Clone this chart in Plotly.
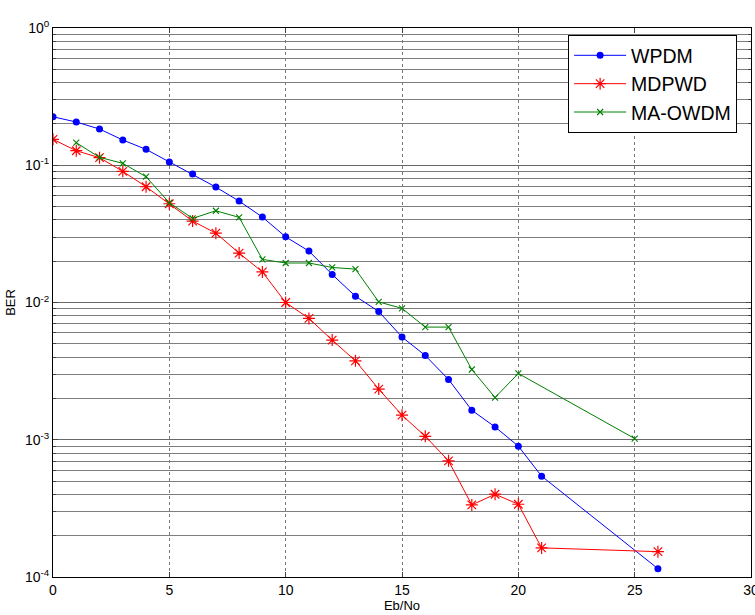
import plotly.graph_objects as go

# Data
x_wpdm = [0, 1, 2, 3, 4, 5, 6, 7, 8, 9, 10, 11, 12, 13, 14, 15, 16, 17, 18, 19, 20, 21, 26]
ber_wpdm = [0.2256, 0.2065, 0.1836, 0.1527, 0.1306, 0.1055, 0.0863, 0.0693, 0.0548, 0.0419,
            0.0301, 0.0237, 0.0160, 0.0111, 0.0086, 0.0056, 0.00411, 0.00275, 0.00164,
            0.00124, 0.000898, 0.000543, 0.000115]

x_mdpwd = [0, 1, 2, 3, 4, 5, 6, 7, 8, 9, 10, 11, 12, 13, 14, 15, 16, 17, 18, 19, 20, 21, 26]
ber_mdpwd = [0.1545, 0.1276, 0.1135, 0.0903, 0.0697, 0.0524, 0.0392, 0.0320, 0.0229, 0.0167,
             0.0100, 0.00766, 0.00532, 0.00376, 0.00234, 0.00151, 0.00106, 0.000702,
             0.000335, 0.000401, 0.000339, 0.000163, 0.000153]

x_maowdm = [1, 2, 3, 4, 5, 6, 7, 8, 9, 10, 11, 12, 13, 14, 15, 16, 17, 18, 19, 20, 25]
ber_maowdm = [0.1459, 0.1142, 0.1032, 0.0825, 0.0533, 0.0410, 0.0466, 0.0417, 0.0206, 0.0194,
              0.0194, 0.0180, 0.0175, 0.0101, 0.00906, 0.00662, 0.00662, 0.00325, 0.00203,
              0.00304, 0.00102]

x_ticks = [0, 5, 10, 15, 20, 25, 30]
y_ticks = [1e-4, 1e-3, 1e-2, 1e-1, 1e0]
y_ticktext = ["10<sup>-4</sup>", "10<sup>-3</sup>", "10<sup>-2</sup>", "10<sup>-1</sup>", "10<sup>0</sup>"]

fig = go.Figure()
fig.add_trace(go.Scatter(
    x=x_wpdm, y=ber_wpdm, name="WPDM", mode="lines+markers",
    line=dict(color="rgb(0,0,255)", width=1),
    marker=dict(symbol="circle", size=7, color="rgb(0,0,255)")))
fig.add_trace(go.Scatter(
    x=x_mdpwd, y=ber_mdpwd, name="MDPWD", mode="lines+markers",
    line=dict(color="rgb(255,0,0)", width=1),
    marker=dict(symbol="asterisk-open", size=10, color="rgb(255,0,0)",
                line=dict(color="rgb(255,0,0)", width=1.2))))
fig.add_trace(go.Scatter(
    x=x_maowdm, y=ber_maowdm, name="MA-OWDM", mode="lines+markers",
    line=dict(color="rgb(0,128,0)", width=1),
    marker=dict(symbol="x-thin-open", size=6, color="rgb(0,128,0)",
                line=dict(color="rgb(0,128,0)", width=1.1))))

font = "Liberation Sans, Arial, sans-serif"
fig.update_layout(
    width=755, height=615,
    margin=dict(l=53, r=4, t=28, b=38, autoexpand=False),
    paper_bgcolor="white", plot_bgcolor="white",
    font=dict(family=font, size=14, color="black"),
    showlegend=True,
    legend=dict(x=0.738, y=0.987, xanchor="left", yanchor="top",
                bgcolor="white", bordercolor="black", borderwidth=1,
                font=dict(size=19.5, family=font), itemwidth=52,
                tracegroupgap=0),
    xaxis=dict(range=[0, 30], tickvals=x_ticks, ticks="inside", ticklen=5,
               ticklabeloverflow="allow",
               showline=True, linecolor="black", linewidth=1, mirror="ticks",
               showgrid=True, gridcolor="rgb(120,120,120)", griddash="dot", gridwidth=1,
               zeroline=False, automargin=False,
               title=dict(text="Eb/No", font=dict(size=13), standoff=3)),
    yaxis=dict(type="log", range=[-4, 0], tickvals=y_ticks, ticktext=y_ticktext,
               ticks="inside", ticklen=5, ticklabeloverflow="allow",
               showline=True, linecolor="black", linewidth=1, mirror="ticks",
               showgrid=True, gridcolor="rgb(105,105,105)", gridwidth=1,
               minor=dict(dtick="D1", showgrid=True, gridcolor="rgb(125,125,125)",
                          gridwidth=1, ticks="inside", ticklen=3),
               zeroline=False, automargin=False,
               title=dict(text="BER", font=dict(size=13), standoff=6)),
)

fig.write_html(
    "out.html",
    config={"displayModeBar": False},
    post_script="document.body.style.margin='0px';document.body.style.overflow='hidden';",
)
